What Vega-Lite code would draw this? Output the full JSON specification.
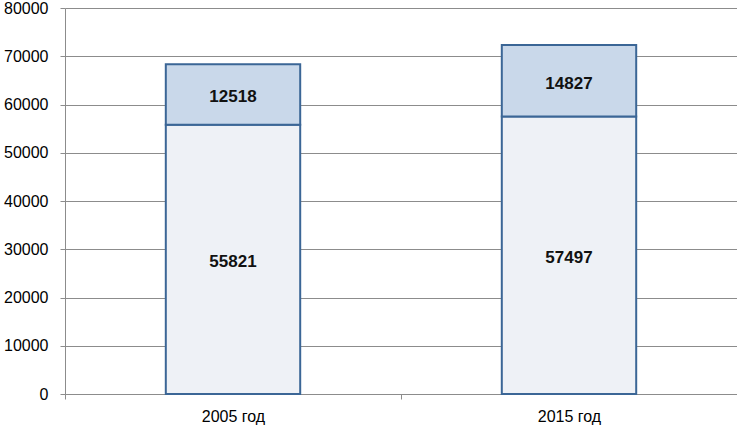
{
  "$schema": "https://vega.github.io/schema/vega-lite/v6.json",
  "width": 672,
  "height": 386,
  "autosize": "none",
  "padding": {"left": 65, "top": 8, "right": 0, "bottom": 37},
  "background": "white",
  "config": {"view": {"stroke": null}, "font": "Liberation Sans"},
  "data": {"values": [
    {"year": "2005 год", "part": "основная", "ord": 1, "value": 55821},
    {"year": "2005 год", "part": "дополнительная", "ord": 2, "value": 12518},
    {"year": "2015 год", "part": "основная", "ord": 1, "value": 57497},
    {"year": "2015 год", "part": "дополнительная", "ord": 2, "value": 14827}
  ]},
  "transform": [
    {"stack": "value", "groupby": ["year"], "sort": [{"field": "ord"}], "as": ["v0", "v1"]},
    {"calculate": "(datum.v0 + datum.v1) / 2", "as": "mid"}
  ],
  "encoding": {
    "x": {"field": "year", "type": "nominal", "scale": {"paddingInner": 0, "paddingOuter": 0},
      "axis": {"title": null, "labelAngle": 0, "tickBand": "extent", "domainColor": "#8c8c8c", "tickColor": "#8c8c8c", "tickSize": 5, "labelFontSize": 16, "labelColor": "#000000", "labelPadding": 9, "labelFont": "Liberation Sans"}}
  },
  "layer": [
    {
      "mark": {"type": "bar", "width": {"band": 0.4}, "stroke": "#3b6696", "strokeWidth": 2},
      "encoding": {
        "y": {"field": "v0", "type": "quantitative", "scale": {"domain": [0, 80000]},
          "axis": {"title": null, "values": [0,10000,20000,30000,40000,50000,60000,70000,80000], "format": "d", "labelOverlap": false, "gridColor": "#8c8c8c", "domainColor": "#8c8c8c", "tickColor": "#8c8c8c", "tickSize": 5, "labelFontSize": 16, "labelColor": "#000000", "labelPadding": 12, "labelFont": "Liberation Sans"}},
        "y2": {"field": "v1"},
        "fill": {"field": "part", "type": "nominal", "legend": null,
          "scale": {"domain": ["основная", "дополнительная"], "range": ["#eef1f6", "#c9d8ea"]}}
      }
    },
    {
      "mark": {"type": "text", "fontWeight": "bold", "fontSize": 17, "dy": 3, "color": "#111111", "font": "Liberation Sans"},
      "encoding": {
        "y": {"field": "mid", "type": "quantitative"},
        "text": {"field": "value", "type": "quantitative", "format": "d"}
      }
    }
  ]
}
